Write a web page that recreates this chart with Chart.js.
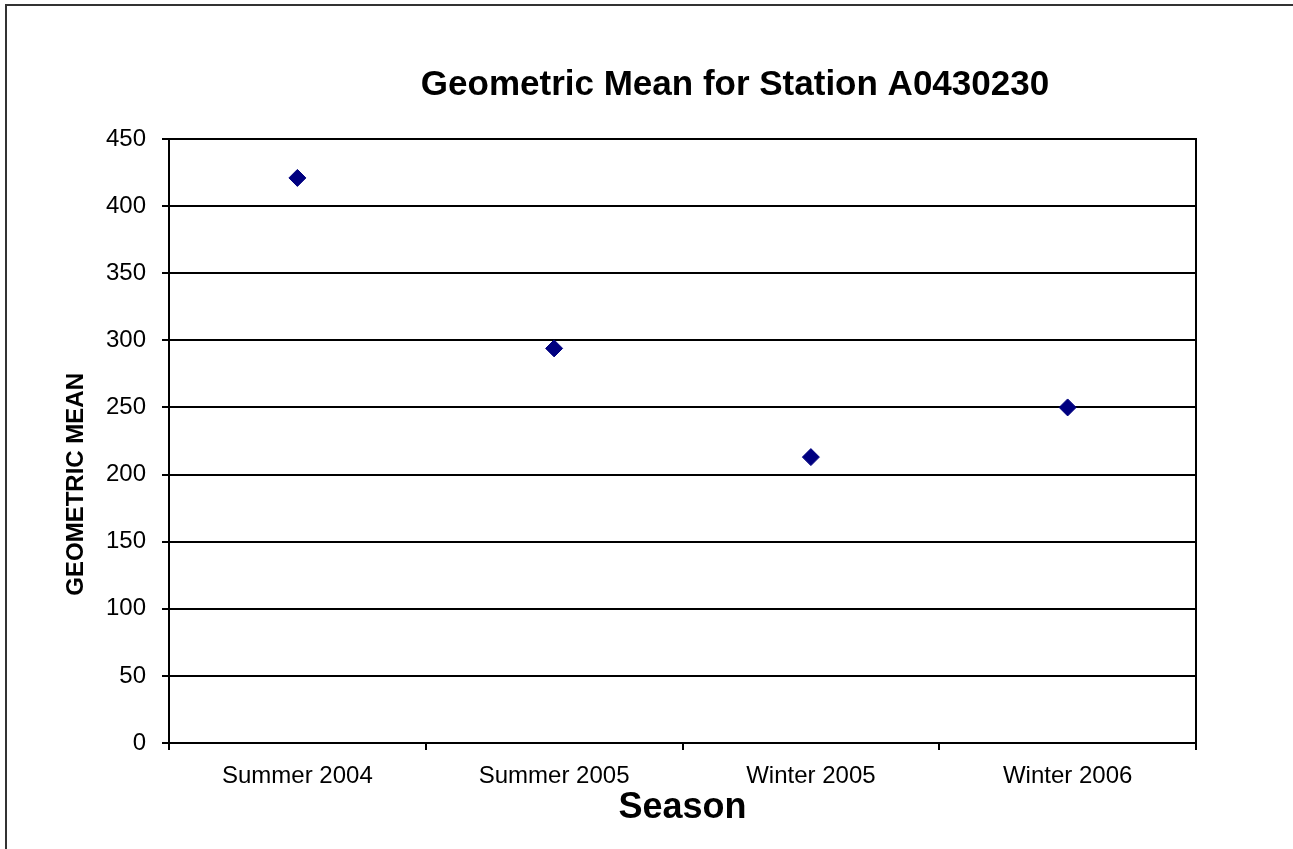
<!DOCTYPE html>
<html>
<head>
<meta charset="utf-8">
<title>Geometric Mean for Station A0430230</title>
<script src="https://cdn.jsdelivr.net/npm/chart.js@4.4.1/dist/chart.umd.min.js"></script>
<style>
    html, body { margin: 0; padding: 0; background: #fff; overflow: hidden; }
    #frame {
        position: absolute; left: 5px; top: 4px; width: 1400px; height: 900px;
        border-left: 2px solid #333; border-top: 2px solid #333;
    }
    #wrap { position: absolute; left: 0; top: 0; width: 1470px; height: 849px; }
</style>
</head>
<body>
<div id="frame"></div>
<div id="wrap"><canvas id="myChart"></canvas></div>
<script>
const seasons = ['Summer 2004', 'Summer 2005', 'Winter 2005', 'Winter 2006'];
const geoMean = [421, 294, 213, 250];
const yTicks = [0, 50, 100, 150, 200, 250, 300, 350, 400, 450];

document.addEventListener('DOMContentLoaded', () => {
    if (typeof Chart === 'undefined') {
        console.error('Chart.js is not loaded');
        return;
    }

    const fontFamily = "'Liberation Sans', Arial, sans-serif";
    const ctx = document.getElementById('myChart').getContext('2d');

    new Chart(ctx, {
        type: 'line',
        data: {
            labels: seasons,
            datasets: [{
                label: 'Geometric Mean',
                data: geoMean,
                showLine: false,
                pointStyle: 'rectRot',
                pointRadius: 8.5,
                pointHoverRadius: 8.5,
                pointBackgroundColor: '#000080',
                pointBorderColor: '#000080',
                pointBorderWidth: 1
            }]
        },
        options: {
            responsive: true,
            maintainAspectRatio: false,
            animation: false,
            layout: { padding: 0 },
            plugins: {
                legend: { display: false },
                tooltip: { enabled: false },
                title: {
                    display: true,
                    text: 'Geometric Mean for Station A0430230',
                    color: '#000',
                    font: { family: fontFamily, size: 35, weight: 'bold' },
                    padding: { top: 64, bottom: 33 }
                }
            },
            scales: {
                x: {
                    type: 'category',
                    offset: true,
                    afterFit: (scale) => { scale.height = 106; },
                    grid: {
                        offset: true,
                        drawOnChartArea: false,
                        drawTicks: true,
                        tickLength: 7,
                        color: '#000',
                        lineWidth: 2
                    },
                    border: { display: true, color: '#000', width: 2 },
                    ticks: {
                        color: '#000',
                        padding: 12,
                        maxRotation: 0,
                        font: { family: fontFamily, size: 24 }
                    },
                    title: {
                        display: true,
                        text: 'Season',
                        color: '#000',
                        font: { family: fontFamily, size: 36, weight: 'bold' },
                        padding: { top: 19, bottom: 19 }
                    }
                },
                y: {
                    min: yTicks[0],
                    max: yTicks[yTicks.length - 1],
                    afterFit: (scale) => { scale.width = 169; },
                    afterBuildTicks: (scale) => {
                        scale.ticks = yTicks.map(v => ({ value: v }));
                    },
                    grid: {
                        color: '#000',
                        lineWidth: 2,
                        drawTicks: true,
                        tickLength: 7
                    },
                    border: { display: true, color: '#000', width: 2 },
                    ticks: {
                        color: '#000',
                        padding: 16,
                        font: { family: fontFamily, size: 24 }
                    },
                    title: {
                        display: true,
                        // trailing spaces push the centred title down, as in the original
                        text: 'GEOMETRIC MEAN' + ' '.repeat(13),
                        color: '#000',
                        font: { family: fontFamily, size: 24, weight: 'bold' },
                        padding: { top: 62, bottom: 0 }
                    }
                },
                y2: {
                    position: 'right',
                    display: true,
                    afterFit: (scale) => { scale.width = 274; },
                    grid: { drawOnChartArea: false, drawTicks: false },
                    border: { display: true, color: '#000', width: 2 },
                    ticks: { display: false }
                }
            }
        }
    });
});
</script>
</body>
</html>
